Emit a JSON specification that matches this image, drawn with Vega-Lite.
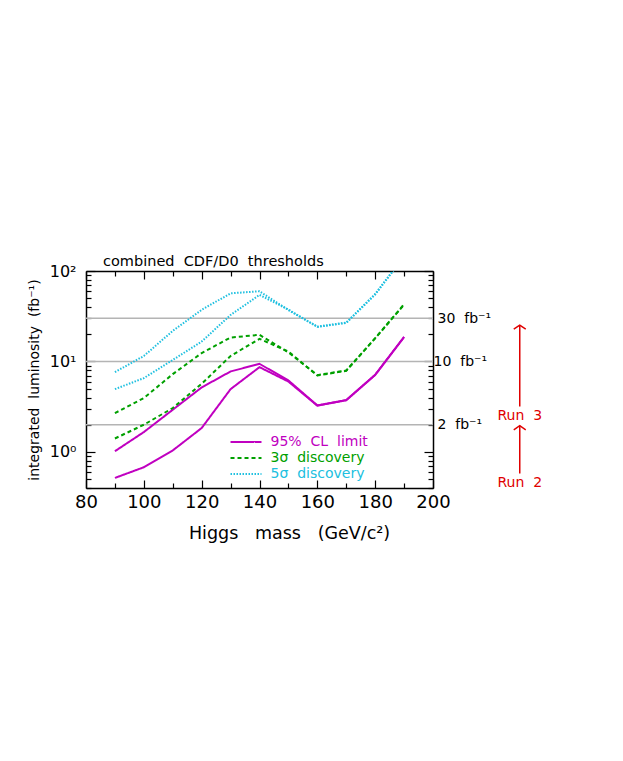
{
  "$schema": "https://vega.github.io/schema/vega-lite/v6.json",
  "width": 347,
  "height": 217,
  "autosize": "none",
  "padding": {"left": 86, "top": 271, "right": 190, "bottom": 273},
  "background": "white",
  "config": {
    "font": "DejaVu Sans",
    "view": {"stroke": null},
    "axis": {
      "domainColor": "black", "domainWidth": 1.5,
      "tickColor": "black", "tickWidth": 1.2,
      "labelColor": "black", "titleColor": "black",
      "labelFont": "DejaVu Sans", "titleFont": "DejaVu Sans",
      "titleFontWeight": "normal", "grid": false,
      "labelOverlap": false, "labelFlush": false, "labelBound": false
    }
  },
  "title": {"text": "combined\u00a0\u00a0CDF/D0\u00a0\u00a0thresholds", "anchor": "start", "frame": "group", "dx": 17, "fontSize": 14.5, "fontWeight": "normal", "font": "DejaVu Sans", "offset": -16, "color": "black"},
  "datasets": {
    "curves": [
      {"series": "95% CL limit", "curve": "a", "mass": 90, "lum": 1.02},
      {"series": "95% CL limit", "curve": "a", "mass": 100, "lum": 1.66},
      {"series": "95% CL limit", "curve": "a", "mass": 110, "lum": 2.93},
      {"series": "95% CL limit", "curve": "a", "mass": 120, "lum": 5.17},
      {"series": "95% CL limit", "curve": "a", "mass": 130, "lum": 7.76},
      {"series": "95% CL limit", "curve": "a", "mass": 140, "lum": 9.42},
      {"series": "95% CL limit", "curve": "a", "mass": 150, "lum": 6.17},
      {"series": "95% CL limit", "curve": "a", "mass": 160, "lum": 3.27},
      {"series": "95% CL limit", "curve": "a", "mass": 170, "lum": 3.75},
      {"series": "95% CL limit", "curve": "a", "mass": 180, "lum": 7.13},
      {"series": "95% CL limit", "curve": "a", "mass": 190, "lum": 18.7},
      {"series": "95% CL limit", "curve": "b", "mass": 90, "lum": 0.517},
      {"series": "95% CL limit", "curve": "b", "mass": 100, "lum": 0.678},
      {"series": "95% CL limit", "curve": "b", "mass": 110, "lum": 1.04},
      {"series": "95% CL limit", "curve": "b", "mass": 120, "lum": 1.84},
      {"series": "95% CL limit", "curve": "b", "mass": 130, "lum": 4.95},
      {"series": "95% CL limit", "curve": "b", "mass": 140, "lum": 8.66},
      {"series": "95% CL limit", "curve": "b", "mass": 150, "lum": 6.0},
      {"series": "95% CL limit", "curve": "b", "mass": 160, "lum": 3.25},
      {"series": "95% CL limit", "curve": "b", "mass": 170, "lum": 3.73},
      {"series": "95% CL limit", "curve": "b", "mass": 180, "lum": 7.1},
      {"series": "95% CL limit", "curve": "b", "mass": 190, "lum": 18.6},
      {"series": "3σ discovery", "curve": "a", "mass": 90, "lum": 2.69},
      {"series": "3σ discovery", "curve": "a", "mass": 100, "lum": 3.94},
      {"series": "3σ discovery", "curve": "a", "mass": 110, "lum": 7.25},
      {"series": "3σ discovery", "curve": "a", "mass": 120, "lum": 12.4},
      {"series": "3σ discovery", "curve": "a", "mass": 130, "lum": 18.4},
      {"series": "3σ discovery", "curve": "a", "mass": 140, "lum": 19.7},
      {"series": "3σ discovery", "curve": "a", "mass": 150, "lum": 12.6},
      {"series": "3σ discovery", "curve": "a", "mass": 160, "lum": 7.07},
      {"series": "3σ discovery", "curve": "a", "mass": 170, "lum": 7.96},
      {"series": "3σ discovery", "curve": "a", "mass": 180, "lum": 18.1},
      {"series": "3σ discovery", "curve": "a", "mass": 190, "lum": 42.9},
      {"series": "3σ discovery", "curve": "b", "mass": 90, "lum": 1.41},
      {"series": "3σ discovery", "curve": "b", "mass": 100, "lum": 2.0},
      {"series": "3σ discovery", "curve": "b", "mass": 110, "lum": 3.06},
      {"series": "3σ discovery", "curve": "b", "mass": 120, "lum": 5.67},
      {"series": "3σ discovery", "curve": "b", "mass": 130, "lum": 11.5},
      {"series": "3σ discovery", "curve": "b", "mass": 140, "lum": 17.8},
      {"series": "3σ discovery", "curve": "b", "mass": 150, "lum": 12.9},
      {"series": "3σ discovery", "curve": "b", "mass": 160, "lum": 7.0},
      {"series": "3σ discovery", "curve": "b", "mass": 170, "lum": 7.9},
      {"series": "3σ discovery", "curve": "b", "mass": 180, "lum": 18.0},
      {"series": "3σ discovery", "curve": "b", "mass": 190, "lum": 42.5},
      {"series": "5σ discovery", "curve": "a", "mass": 90, "lum": 7.63},
      {"series": "5σ discovery", "curve": "a", "mass": 100, "lum": 11.5},
      {"series": "5σ discovery", "curve": "a", "mass": 110, "lum": 21.8},
      {"series": "5σ discovery", "curve": "a", "mass": 120, "lum": 37.2},
      {"series": "5σ discovery", "curve": "a", "mass": 130, "lum": 56.7},
      {"series": "5σ discovery", "curve": "a", "mass": 140, "lum": 59.7},
      {"series": "5σ discovery", "curve": "a", "mass": 150, "lum": 37.0},
      {"series": "5σ discovery", "curve": "a", "mass": 160, "lum": 24.3},
      {"series": "5σ discovery", "curve": "a", "mass": 170, "lum": 26.9},
      {"series": "5σ discovery", "curve": "a", "mass": 180, "lum": 55.7},
      {"series": "5σ discovery", "curve": "a", "mass": 190, "lum": 146},
      {"series": "5σ discovery", "curve": "b", "mass": 90, "lum": 4.95},
      {"series": "5σ discovery", "curve": "b", "mass": 100, "lum": 6.55},
      {"series": "5σ discovery", "curve": "b", "mass": 110, "lum": 10.4},
      {"series": "5σ discovery", "curve": "b", "mass": 120, "lum": 16.6},
      {"series": "5σ discovery", "curve": "b", "mass": 130, "lum": 32.7},
      {"series": "5σ discovery", "curve": "b", "mass": 140, "lum": 54.4},
      {"series": "5σ discovery", "curve": "b", "mass": 150, "lum": 37.5},
      {"series": "5σ discovery", "curve": "b", "mass": 160, "lum": 24.1},
      {"series": "5σ discovery", "curve": "b", "mass": 170, "lum": 26.7},
      {"series": "5σ discovery", "curve": "b", "mass": 180, "lum": 55.0},
      {"series": "5σ discovery", "curve": "b", "mass": 190, "lum": 145}
    ],
    "thresholds": [
      {"lum": 2},
      {"lum": 10},
      {"lum": 30}
    ],
    "runs": [
      {"run": "Run\u00a0\u00a02", "from": 0.577, "to": 1.95, "labelLum": 0.459},
      {"run": "Run\u00a0\u00a03", "from": 3.18, "to": 25.2, "labelLum": 2.51}
    ]
  },
  "layer": [
    {
      "data": {"name": "thresholds"},
      "mark": {"type": "rule", "color": "#b4b4b4", "strokeWidth": 1.5},
      "encoding": {
        "y": {
          "field": "lum", "type": "quantitative",
          "scale": {"type": "log", "domain": [0.4, 100], "nice": false},
          "axis": {
            "orient": "right", "title": null,
            "values": [0.4, 0.5, 0.6, 0.7, 0.8, 0.9, 1, 2, 3, 4, 5, 6, 7, 8, 9, 10, 20, 30, 40, 50, 60, 70, 80, 90, 100],
            "labelExpr": "(datum.value == 2 || datum.value == 10 || datum.value == 30) ? datum.value + '\u00a0\u00a0fb⁻¹' : ''",
            "tickSize": {"condition": {"test": "datum.value == 1 || datum.value == 10 || datum.value == 100", "value": -9}, "value": -5},
            "labelFontSize": 14, "labelPadding": 9
          }
        }
      }
    },
    {
      "data": {"name": "curves"},
      "mark": {"type": "point", "opacity": 0},
      "encoding": {
        "x": {
          "field": "mass", "type": "quantitative",
          "scale": {"domain": [80, 200], "nice": false},
          "axis": {
            "orient": "top", "title": null, "labels": false,
            "values": [80, 90, 100, 110, 120, 130, 140, 150, 160, 170, 180, 190, 200],
            "tickSize": {"condition": {"test": "datum.value % 20 == 0", "value": -8}, "value": -5}
          }
        },
        "y": {
          "field": "lum", "type": "quantitative",
          "scale": {"type": "log", "domain": [0.4, 100], "nice": false},
          "axis": null
        }
      }
    },
    {
      "data": {"name": "curves"},
      "mark": {"type": "line", "strokeWidth": 2, "clip": true},
      "encoding": {
        "x": {
          "field": "mass", "type": "quantitative",
          "scale": {"domain": [80, 200], "nice": false},
          "axis": {
            "orient": "bottom",
            "title": "Higgs\u00a0\u00a0\u00a0mass\u00a0\u00a0\u00a0(GeV/c²)",
            "values": [80, 90, 100, 110, 120, 130, 140, 150, 160, 170, 180, 190, 200],
            "labelExpr": "datum.value % 20 == 0 ? datum.label : ''",
            "tickSize": {"condition": {"test": "datum.value % 20 == 0", "value": -8}, "value": -5},
            "labelFontSize": 18, "labelPadding": 13,
            "titleFontSize": 17.5, "titlePadding": 10, "titleX": 203, "titleAlign": "center"
          }
        },
        "y": {
          "field": "lum", "type": "quantitative",
          "scale": {"type": "log", "domain": [0.4, 100], "nice": false},
          "axis": {
            "orient": "left",
            "title": "integrated\u00a0\u00a0luminosity\u00a0\u00a0(fb⁻¹)",
            "values": [0.4, 0.5, 0.6, 0.7, 0.8, 0.9, 1, 2, 3, 4, 5, 6, 7, 8, 9, 10, 20, 30, 40, 50, 60, 70, 80, 90, 100],
            "labelExpr": "datum.value == 1 ? '10⁰' : datum.value == 10 ? '10¹' : datum.value == 100 ? '10²' : ''",
            "tickSize": {"condition": {"test": "datum.value == 1 || datum.value == 10 || datum.value == 100", "value": -9}, "value": -5},
            "labelFontSize": 16, "labelPadding": 19,
            "titleFontSize": 14, "titlePadding": 8
          }
        },
        "stroke": {
          "field": "series", "type": "nominal",
          "scale": {"domain": ["95% CL limit", "3σ discovery", "5σ discovery"], "range": ["#c000c0", "#00a000", "#20c0e0"]},
          "legend": {
            "orient": "none", "legendX": 151, "legendY": 162, "title": null,
            "symbolType": "M-2,0L2,0", "symbolSize": 240, "symbolStrokeWidth": 2, "symbolFillColor": "transparent",
            "labelFontSize": 14, "labelFont": "DejaVu Sans", "labelOffset": 15.5, "rowPadding": -0.5, "padding": 0,
            "labelExpr": "replace(datum.label, regexp(' ', 'g'), '\u00a0\u00a0')",
            "encode": {"labels": {"update": {"fill": {"scale": "stroke", "field": "value"}}}}
          }
        },
        "strokeDash": {
          "field": "series", "type": "nominal",
          "scale": {"domain": ["95% CL limit", "3σ discovery", "5σ discovery"], "range": [[1, 0], [4, 3], [1.5, 1.5]]}
        },
        "detail": {"field": "curve"}
      }
    },
    {
      "data": {"name": "runs"},
      "mark": {"type": "rule", "color": "#e00000", "strokeWidth": 1.5},
      "encoding": {
        "x": {"datum": 230, "type": "quantitative", "axis": null},
        "y": {"field": "from", "type": "quantitative", "axis": null},
        "y2": {"field": "to"}
      }
    },
    {
      "data": {"name": "runs"},
      "mark": {"type": "point", "shape": "M-1,0.67L0,0L1,0.67", "size": 144, "filled": false, "stroke": "#e00000", "strokeWidth": 1.5, "opacity": 1},
      "encoding": {
        "x": {"datum": 230, "type": "quantitative", "axis": null},
        "y": {"field": "to", "type": "quantitative", "axis": null}
      }
    },
    {
      "data": {"name": "runs"},
      "mark": {"type": "text", "color": "#e00000", "fontSize": 14, "align": "center", "baseline": "middle", "font": "DejaVu Sans"},
      "encoding": {
        "x": {"datum": 230, "type": "quantitative", "axis": null},
        "y": {"field": "labelLum", "type": "quantitative", "axis": null},
        "text": {"field": "run"}
      }
    }
  ],
  "resolve": {"axis": {"x": "independent", "y": "independent"}}
}
